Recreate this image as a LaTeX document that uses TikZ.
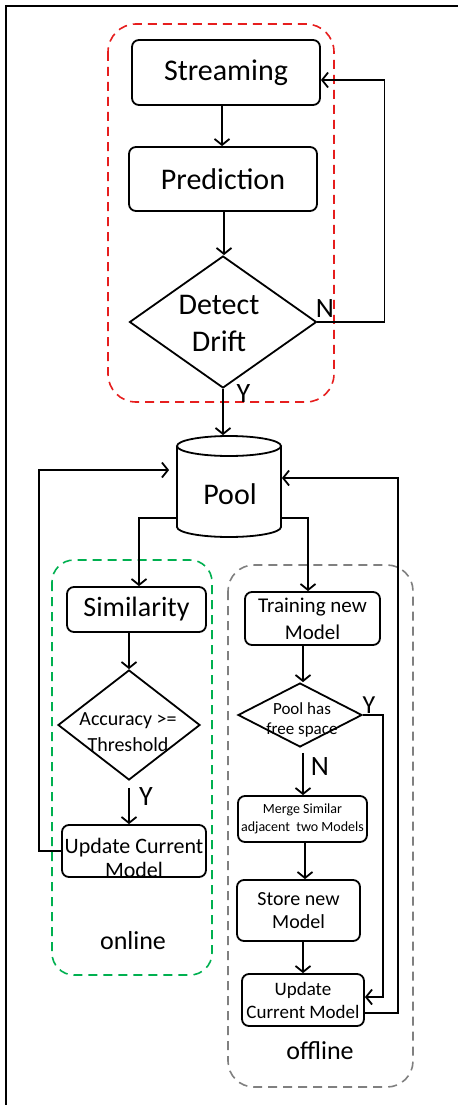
\documentclass[tikz,border=0pt]{standalone}
\usepackage{fontspec}
\setmainfont{Carlito}
\usetikzlibrary{arrows.meta,shapes.geometric,calc}
\newcommand\fs[2]{\fontsize{#1}{#2}\selectfont}
\begin{document}
\begin{tikzpicture}[x=1pt,y=-1pt,line width=1.8pt,
  box/.style={draw,rounded corners=7pt,inner sep=0pt,align=center},
  dia/.style={draw,diamond,inner sep=0pt},
  txt/.style={inner sep=0pt,align=center},
  arr/.style={-{Straight Barb[length=6pt,width=15pt]}},
  grp/.style={dashed,line width=1.6pt,dash pattern=on 9pt off 6pt,rounded corners=#1},
]
\useasboundingbox (0,0) rectangle (458,1105);
\definecolor{rd}{RGB}{230,30,30}
\definecolor{gr}{RGB}{0,176,80}
\definecolor{gy}{RGB}{128,128,128}
% outer frame
\draw[line width=2pt] (6,1105) -- (6,6) -- (458,6);
% groups
\draw[grp=28pt,rd] (108,24) rectangle (334,402);
\draw[grp=22pt,gr] (52,560) rectangle (212,975);
\draw[grp=26pt,gy] (228,565) rectangle (413,1087);
% top part
\node[box,minimum width=188pt,minimum height=65pt,font=\fs{30}{36}] (stream) at (226,72.5) {Streaming};
\node[box,minimum width=188pt,minimum height=64pt,font=\fs{30}{36}] (pred) at (223,179) {Prediction};
\node[dia,minimum width=187pt,minimum height=132pt] (detect) at (223,322) {};
\node[txt,font=\fs{30}{37}] (detectt) at (219,323) {Detect\\Drift};
% pool
\node[inner sep=0pt,minimum width=104pt,minimum height=101pt] (pool) at (229,486.5) {};
\draw (177,446) -- (177,527) arc[start angle=180,end angle=360,x radius=52pt,y radius=10pt] -- (281,446);
\draw (229,446) ellipse[x radius=52pt,y radius=10pt];
\node[txt,font=\fs{30}{36}] (poolt) at (230,494) {Pool};
% online
\node[box,minimum width=139pt,minimum height=45pt,font=\fs{28}{32}] (sim) at (136.5,609.5) {Similarity};
\node[dia,minimum width=142pt,minimum height=110pt] (acc) at (129,725) {};
\node[txt,font=\fs{20}{26}] (acct) at (128,732) {Accuracy >=\\Threshold};
\node[box,minimum width=144pt,minimum height=52pt] (upd1) at (134,851) {};
\node[txt,font=\fs{22}{24}] (upd1t) at (134,858) {Update Current\\Model};
\node[txt,font=\fs{26}{30}] (online) at (133,941) {online};
% offline
\node[box,minimum width=135pt,minimum height=53pt,font=\fs{21}{27}] (train) at (312.5,618.5) {Training new\\Model};
\node[dia,minimum width=124pt,minimum height=64pt] (phas) at (300,715) {};
\node[txt,font=\fs{17}{20}] (phast) at (302,720) {Pool has\\free space};
\node[box,minimum width=129pt,minimum height=46pt,font=\fs{14}{18}] (merge) at (302.5,819) {Merge Similar\\adjacent\ \ two Models};
\node[box,minimum width=123pt,minimum height=61pt,font=\fs{20}{23}] (store) at (298.5,910.5) {Store new\\Model};
\node[box,minimum width=122pt,minimum height=52pt,font=\fs{19}{23}] (upd2) at (303,1000) {Update\\Current Model};
\node[txt,font=\fs{26}{30}] (offline) at (320,1051) {offline};
% labels
\node[txt,font=\fs{28}{32}] (lN1) at (325,309) {N};
\node[txt,font=\fs{28}{32}] (lY1) at (243.5,394) {Y};
\node[txt,font=\fs{28}{32}] (lY2) at (146,797) {Y};
\node[txt,font=\fs{26}{30}] (lY3) at (369,705) {Y};
\node[txt,font=\fs{28}{32}] (lN2) at (320,767) {N};
% connectors
\draw[arr] (stream.south -| 222,0) -- (pred.north -| 222,0);
\draw[arr] (pred.south -| 224,0) -- (detect.north -| 224,0);
\draw[arr] (detect.east) -- ++(67,0) |- ([yshift=-7.5pt]stream.east);
\draw[arr] (detect.south) -- (detect.south |- pool.north);
\draw[arr] (upd1.west) -- ++(-22,0) |- ([xshift=-7pt,yshift=16.5pt]pool.west);
\draw[arr] ([yshift=-13pt]upd2.east) -- ++(33,0) |- ([yshift=8.5pt]pool.east);
\draw[arr] ([yshift=-31.5pt]pool.west) -| ([xshift=2.5pt]sim.north);
\draw[arr] ([yshift=-31.5pt]pool.east) -| ([xshift=-4.5pt]train.north);
\draw[arr] (sim.south -| acc.north) -- (acc.north);
\draw[arr] ([yshift=-7pt]acc.south) -- (acc.south |- upd1.north);
\draw[arr] ([xshift=-9.5pt]train.south) -- ([xshift=3pt]phas.north);
\draw[arr] (phas.east) -- ++(20,0) |- ([yshift=3pt]upd2.east);
\draw[arr] ([xshift=3pt,yshift=-5pt]phas.south) -- ([xshift=3pt]phas.south |- merge.north);
\draw[arr] ([xshift=2.5pt]merge.south) -- ([xshift=2.5pt]merge.south |- store.north);
\draw[arr] ([xshift=4.5pt]store.south) -- (upd2.north);
\end{tikzpicture}
\end{document}
